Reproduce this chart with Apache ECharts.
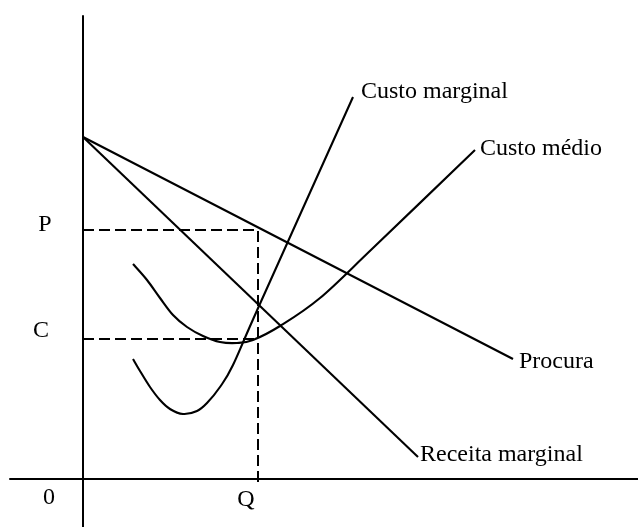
<!DOCTYPE html>
<html>
<head>
<meta charset="utf-8">
<script src="https://cdn.jsdelivr.net/npm/echarts@6/dist/echarts.min.js"></script>
<style>
  html, body { margin: 0; padding: 0; background: #ffffff; }
  #chart { width: 638px; height: 527px; }
</style>
</head>
<body>
<div id="chart"></div>
<script>
// Monopoly equilibrium: demand, marginal revenue, marginal cost and average cost.
// Quantity on the horizontal axis, price on the vertical axis (arbitrary units).

const P = 24.9;   // monopoly price
const C = 14.0;   // average cost at Q
const Q = 17.5;   // quantity where marginal revenue = marginal cost

const demand = [[0, 34.2], [43.0, 12.0]];
const marginalRevenue = [[0, 34.2], [33.5, 2.2]];
const marginalCost = [
  [5.0, 12.0], [5.7, 10.8], [6.7, 9.2], [7.7, 7.9], [8.7, 7.0],
  [10.0, 6.5], [11.4, 6.8], [12.4, 7.6], [13.7, 9.2], [15.0, 11.4],
  [17.6, 17.3], [27.0, 38.2]
];
const averageCost = [
  [5.0, 21.5], [6.4, 19.9], [7.7, 18.1], [9.0, 16.4], [10.4, 15.2],
  [12.0, 14.3], [13.7, 13.7], [15.4, 13.6], [17.0, 13.9], [19.7, 15.3],
  [23.7, 18.1], [29.0, 23.1], [39.2, 32.9]
];

const curveNames = ['Procura', 'Receita marginal', 'Custo marginal', 'Custo médio'];
const axisMarkNames = ['P', 'C', '0', 'Q'];
const axisMarkValues = [[0, P], [0, C], [0, 0], [Q, 0]];

const FONT = '"Liberation Serif", "DejaVu Serif", serif';
const INK = '#000000';

const chart = echarts.init(document.getElementById('chart'), null, { renderer: 'canvas' });

// Smooth cost curve: Catmull-Rom spline through the points, in pixel space
function smoothCurve(name, data) {
  return {
    name: name,
    type: 'custom',
    silent: true,
    data: data,
    encode: { x: 0, y: 1 },
    renderItem: function (params, api) {
      if (params.dataIndex !== 0) return null;
      const pts = data.map(p => api.coord(p));
      let d = 'M' + pts[0][0] + ' ' + pts[0][1];
      for (let i = 0; i < pts.length - 1; i++) {
        const p0 = pts[Math.max(i - 1, 0)];
        const p1 = pts[i];
        const p2 = pts[i + 1];
        const p3 = pts[Math.min(i + 2, pts.length - 1)];
        const c1x = p1[0] + (p2[0] - p0[0]) / 6, c1y = p1[1] + (p2[1] - p0[1]) / 6;
        const c2x = p2[0] - (p3[0] - p1[0]) / 6, c2y = p2[1] - (p3[1] - p1[1]) / 6;
        d += ' C' + c1x + ' ' + c1y + ' ' + c2x + ' ' + c2y + ' ' + p2[0] + ' ' + p2[1];
      }
      return {
        type: 'path',
        shape: { pathData: d },
        style: { fill: null, stroke: INK, lineWidth: 2.1, lineJoin: 'round' }
      };
    }
  };
}

function straight(name, data) {
  return {
    name: name, type: 'line', data: data, symbol: 'none', silent: true,
    lineStyle: { color: INK, width: 2.1 }
  };
}

chart.setOption({
  animation: false,
  backgroundColor: '#ffffff',
  grid: { left: 10, right: 0, top: 16, bottom: 0, containLabel: false },
  xAxis: {
    type: 'value', min: -7.3, max: 55.5,
    axisLine: { show: true, onZero: true, lineStyle: { color: INK, width: 2 } },
    axisTick: { show: false }, axisLabel: { show: false }, splitLine: { show: false }
  },
  yAxis: {
    type: 'value', min: -4.8, max: 46.3,
    axisLine: { show: true, onZero: true, lineStyle: { color: INK, width: 2 } },
    axisTick: { show: false }, axisLabel: { show: false }, splitLine: { show: false }
  },
  series: [
    {
      name: 'P guide', type: 'line', symbol: 'none', silent: true,
      data: [[0, P], [Q, P], [Q, -0.8]],
      lineStyle: { color: INK, width: 2, type: [11, 5] }
    },
    {
      name: 'C guide', type: 'line', symbol: 'none', silent: true,
      data: [[0, C], [Q, C]],
      lineStyle: { color: INK, width: 2, type: [11, 5] }
    },
    straight(curveNames[0], demand),
    straight(curveNames[1], marginalRevenue),
    smoothCurve(curveNames[2], marginalCost),
    smoothCurve(curveNames[3], averageCost)
  ]
});

// Text placed relative to points on the chart, converted through the axes
function textAt(value, text, dx, dy, align) {
  const px = chart.convertToPixel({ gridIndex: 0 }, value);
  return {
    type: 'text', silent: true,
    x: px[0] + dx, y: px[1] + dy,
    style: {
      text: text, fill: INK, font: '24px ' + FONT,
      align: align, verticalAlign: 'middle'
    }
  };
}

const curveEnds = [demand, marginalRevenue, marginalCost, averageCost].map(c => c[c.length - 1]);
const curveLabelShift = [[6, 3], [2, -2], [8, -5.5], [5, -1.5]];
const markLabelShift = [[-38, -5], [-42, -8], [-34, 19], [-12, 21]];

chart.setOption({
  graphic: [
    ...curveEnds.map((v, i) => textAt(v, curveNames[i], curveLabelShift[i][0], curveLabelShift[i][1], 'left')),
    ...axisMarkValues.map((v, i) => textAt(v, axisMarkNames[i], markLabelShift[i][0], markLabelShift[i][1], 'center'))
  ]
});
</script>
</body>
</html>
